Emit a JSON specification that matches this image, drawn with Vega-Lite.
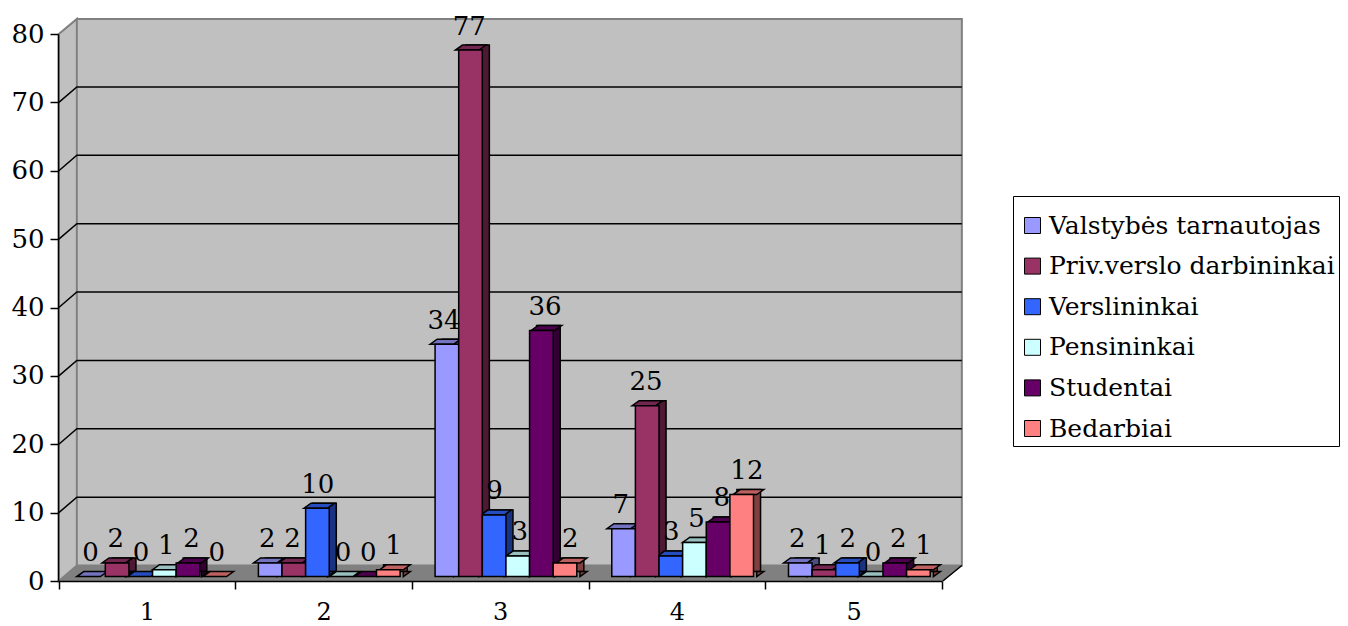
{
"$schema":"https://vega.github.io/schema/vega-lite/v6.json",
"width":903,"height":562,
"autosize":"none",
"padding":{"left":58,"top":19,"right":387,"bottom":45},
"background":"white",
"view":{"stroke":null},
"config":{"font":"DejaVu Serif"},
"datasets":{
"rows":[
{"cat":"1","series":"Valstybės tarnautojas","value":0},{"cat":"1","series":"Priv.verslo darbininkai","value":2},{"cat":"1","series":"Verslininkai","value":0},{"cat":"1","series":"Pensininkai","value":1},{"cat":"1","series":"Studentai","value":2},{"cat":"1","series":"Bedarbiai","value":0},
{"cat":"2","series":"Valstybės tarnautojas","value":2},{"cat":"2","series":"Priv.verslo darbininkai","value":2},{"cat":"2","series":"Verslininkai","value":10},{"cat":"2","series":"Pensininkai","value":0},{"cat":"2","series":"Studentai","value":0},{"cat":"2","series":"Bedarbiai","value":1},
{"cat":"3","series":"Valstybės tarnautojas","value":34},{"cat":"3","series":"Priv.verslo darbininkai","value":77},{"cat":"3","series":"Verslininkai","value":9},{"cat":"3","series":"Pensininkai","value":3},{"cat":"3","series":"Studentai","value":36},{"cat":"3","series":"Bedarbiai","value":2},
{"cat":"4","series":"Valstybės tarnautojas","value":7},{"cat":"4","series":"Priv.verslo darbininkai","value":25},{"cat":"4","series":"Verslininkai","value":3},{"cat":"4","series":"Pensininkai","value":5},{"cat":"4","series":"Studentai","value":8},{"cat":"4","series":"Bedarbiai","value":12},
{"cat":"5","series":"Valstybės tarnautojas","value":2},{"cat":"5","series":"Priv.verslo darbininkai","value":1},{"cat":"5","series":"Verslininkai","value":2},{"cat":"5","series":"Pensininkai","value":0},{"cat":"5","series":"Studentai","value":2},{"cat":"5","series":"Bedarbiai","value":1}
],
"grid":[{"cat":"1","tick":10},{"cat":"1","tick":20},{"cat":"1","tick":30},{"cat":"1","tick":40},{"cat":"1","tick":50},{"cat":"1","tick":60},{"cat":"1","tick":70}],
"origin":[{"cat":"1","tick":0}]
},
"encoding":{
"x":{"field":"cat","type":"ordinal","title":null,
 "scale":{"domain":["1","2","3","4","5"],"range":[0.5,884],"paddingInner":0,"paddingOuter":0},
 "axis":{"tickBand":"extent","tickSize":8,"tickWidth":1.5,"tickColor":"#000","domainColor":"#000","domainWidth":1.5,"labelAngle":0,"labelFontSize":24,"labelFont":"DejaVu Serif","labelColor":"#000","labelPadding":11,"grid":false,"zindex":1}},
"y":{"field":"value","type":"quantitative","title":null,
 "scale":{"domain":[0,80],"range":[562,15],"nice":false,"zero":true},
 "axis":{"values":[0,10,20,30,40,50,60,70,80],"tickSize":8,"tickWidth":1.5,"tickColor":"#000","domainColor":"#000","domainWidth":1.5,"labelFontSize":26,"labelFont":"DejaVu Serif","labelColor":"#000","labelPadding":6,"grid":false,"zindex":1}}
},
"layer":[
{"data":{"name":"origin"},
 "mark":{"type":"point","filled":true,"opacity":1,"size":4,"fill":"#C0C0C0","stroke":"#808080","strokeWidth":2,"shape":"M-88,0 L-70,-15.5 L-70,-562 L-88,-547 Z M-70,-15.5 L815,-15.5 L815,-562 L-70,-562 Z"},
 "encoding":{"y":{"field":"tick","type":"quantitative"}}},
{"data":{"name":"origin"},
 "mark":{"type":"point","filled":true,"opacity":1,"size":4,"fill":"#808080","stroke":"#808080","strokeWidth":1,"shape":"M-88,0 L-70,-15.5 L815,-15.5 L796,0 Z"},
 "encoding":{"y":{"field":"tick","type":"quantitative"}}},
{"data":{"name":"origin"},
 "mark":{"type":"point","filled":false,"opacity":1,"size":4,"stroke":"#000","strokeWidth":1.5,"shape":"M796,0 L815,-15.5"},
 "encoding":{"y":{"field":"tick","type":"quantitative"}}},
{"data":{"name":"grid"},
 "mark":{"type":"point","filled":false,"opacity":1,"size":4,"stroke":"#000","strokeWidth":1.5,"shape":"M-88,0 L-70,-15.5 L815,-15.5"},
 "encoding":{"y":{"field":"tick","type":"quantitative"}}},
{"data":{"name":"rows"},
 "transform":[{"filter":"datum.value>0"}],
 "mark":{"type":"bar","stroke":"#000","strokeWidth":1.5,"yOffset":-9.4,"y2Offset":-9.4},
 "encoding":{
  "xOffset":{"field":"series","type":"nominal","scale":{"domain":["Valstybės tarnautojas","Priv.verslo darbininkai","Verslininkai","Pensininkai","Studentai","Bedarbiai"],"paddingInner":0,"paddingOuter":0.74,"align":0.864}},
  "fill":{"field":"series","type":"nominal","legend":null,"scale":{"domain":["Valstybės tarnautojas","Priv.verslo darbininkai","Verslininkai","Pensininkai","Studentai","Bedarbiai"],"range":["#4D4D80","#4D1933","#1A3380","#668080","#330033","#804040"]}}
 }},
{"data":{"name":"rows"},
 "transform":[{"filter":"datum.value>0"}],
 "mark":{"type":"point","filled":true,"opacity":1,"size":4,"stroke":"#000","strokeWidth":1.5,"yOffset":-4.4,"shape":"M11.8,0 L18.8,-5 L11.8,-5 Z"},
 "encoding":{
  "y":{"datum":0,"type":"quantitative"},
  "xOffset":{"field":"series","type":"nominal","scale":{"type":"point","domain":["Valstybės tarnautojas","Priv.verslo darbininkai","Verslininkai","Pensininkai","Studentai","Bedarbiai"],"padding":1.244,"align":0.596}},
  "fill":{"field":"series","type":"nominal","legend":null,"scale":{"domain":["Valstybės tarnautojas","Priv.verslo darbininkai","Verslininkai","Pensininkai","Studentai","Bedarbiai"],"range":["#4D4D80","#4D1933","#1A3380","#668080","#330033","#804040"]}}
 }},
{"data":{"name":"rows"},
 "mark":{"type":"point","filled":true,"opacity":1,"size":4,"stroke":"#000","strokeWidth":1.5,"yOffset":-4.4,"shape":"M-11.8,0 L11.8,0 L18.8,-5 L-4.8,-5 Z"},
 "encoding":{
  "xOffset":{"field":"series","type":"nominal","scale":{"type":"point","domain":["Valstybės tarnautojas","Priv.verslo darbininkai","Verslininkai","Pensininkai","Studentai","Bedarbiai"],"padding":1.244,"align":0.596}},
  "fill":{"field":"series","type":"nominal","legend":null,"scale":{"domain":["Valstybės tarnautojas","Priv.verslo darbininkai","Verslininkai","Pensininkai","Studentai","Bedarbiai"],"range":["#7373BF","#732650","#264DBF","#99BFBF","#4D004D","#BF6060"]}}
 }},
{"data":{"name":"rows"},
 "transform":[{"filter":"datum.value>0"}],
 "mark":{"type":"bar","stroke":"#000","strokeWidth":1.5,"yOffset":-4.4,"y2Offset":-4.4},
 "encoding":{
  "xOffset":{"field":"series","type":"nominal","scale":{"domain":["Valstybės tarnautojas","Priv.verslo darbininkai","Verslininkai","Pensininkai","Studentai","Bedarbiai"],"paddingInner":0,"paddingOuter":0.74,"align":0.663}},
  "fill":{"field":"series","type":"nominal","title":" ",
   "scale":{"domain":["Valstybės tarnautojas","Priv.verslo darbininkai","Verslininkai","Pensininkai","Studentai","Bedarbiai"],"range":["#9999FF","#993366","#3366FF","#CCFFFF","#660066","#FF8080"]},
   "legend":{"orient":"none","legendX":955,"legendY":177,"symbolType":"square","symbolSize":256,"symbolStrokeColor":"#000","symbolStrokeWidth":1,"labelFont":"DejaVu Serif","labelFontSize":25,"labelColor":"#000","labelOffset":4,"strokeColor":"#000","fillColor":"#fff","padding":4,"rowPadding":14.6,"labelLimit":330,"symbolOffset":3,"titleFontSize":13,"titlePadding":0,"titleFont":"DejaVu Serif"}}
 }},
{"data":{"name":"rows"},
 "mark":{"type":"text","font":"DejaVu Serif","fontSize":26,"color":"#000","dx":2,"yOffset":-28},
 "encoding":{
  "xOffset":{"field":"series","type":"nominal","scale":{"type":"point","domain":["Valstybės tarnautojas","Priv.verslo darbininkai","Verslininkai","Pensininkai","Studentai","Bedarbiai"],"padding":1.244,"align":0.596}},
  "text":{"field":"value","type":"quantitative"}
 }}
],
"resolve":{"scale":{"fill":"independent","xOffset":"independent"}}
}
